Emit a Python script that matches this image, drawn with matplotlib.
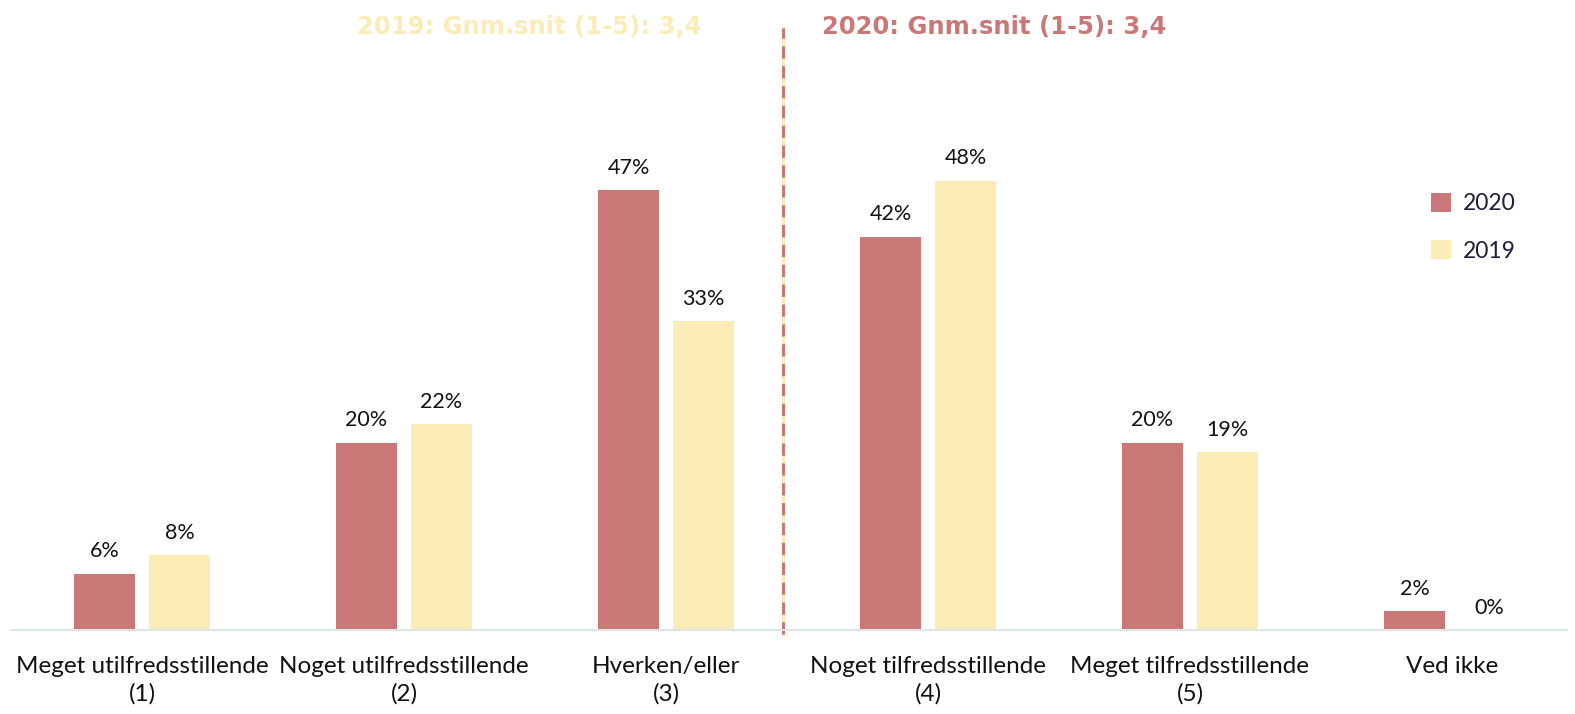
import matplotlib.pyplot as plt
import numpy as np

categories = ["Meget utilfredsstillende\n(1)", "Noget utilfredsstillende\n(2)",
              "Hverken/eller\n(3)", "Noget tilfredsstillende\n(4)",
              "Meget tilfredsstillende\n(5)", "Ved ikke"]
values_2020 = [6, 20, 47, 42, 20, 2]
values_2019 = [8, 22, 33, 48, 19, 0]
title_2019 = "2019: Gnm.snit (1-5): 3,4"
title_2020 = "2020: Gnm.snit (1-5): 3,4"

red = "#C97777"
yellow = "#FBEBB5"

plt.rcParams["font.family"] = ["Lato", "DejaVu Sans"]

fig = plt.figure(figsize=(15.75, 7.14), dpi=100)
ax = fig.add_axes([11 / 1575, 84 / 714, 1572 / 1575, 630 / 714])

x = np.arange(len(categories))
w = 0.23
off = 0.143
b1 = ax.bar(x - off, values_2020, w, color=red, label="2020")
b2 = ax.bar(x + off, values_2019, w, color=yellow, label="2019")

for bars, vals in [(b1, values_2020), (b2, values_2019)]:
    for b, v in zip(bars, vals):
        ax.annotate(f"{v}%", (b.get_x() + b.get_width() / 2, v),
                    xytext=(0, 9), textcoords="offset points",
                    ha="center", va="bottom", fontsize=15.5, color="#111111")

ax.set_xlim(-0.5, 5.5)
ax.set_ylim(0, 67.3)
ax.set_xticks(x)
ax.set_xticklabels(categories, fontsize=17.5, color="#111111")
for t in ax.get_xticklabels():
    t.set_linespacing(1.3)
ax.tick_params(axis="x", length=0, pad=19)
ax.set_yticks([])
for s in ["top", "right", "left"]:
    ax.spines[s].set_visible(False)
ax.spines["bottom"].set_color("#DDE6E6")
ax.spines["bottom"].set_linewidth(1.5)
ax.spines["bottom"].set_bounds(-0.5, 5.44)

# divider line
ax.plot([2.447, 2.447], [-0.4, 64.3], color=yellow, lw=2.2, clip_on=False, zorder=1)
ax.plot([2.447, 2.447], [-0.4, 64.3], color=red, lw=2.2, clip_on=False,
        dashes=(4, 2.5), zorder=2)

tfam = ["DejaVu Sans Condensed", "DejaVu Sans"]
fig.text(529 / 1575, 1 - 27 / 714, title_2019, color=yellow, fontsize=17.5,
         fontweight="bold", ha="center", va="center", family=tfam)
fig.text(994 / 1575, 1 - 27 / 714, title_2020, color=red, fontsize=17.5,
         fontweight="bold", ha="center", va="center", family=tfam)

leg = fig.legend(handles=[b1, b2], loc="upper left",
                 bbox_to_anchor=(1410 / 1575, 1 - 172 / 714), frameon=False,
                 fontsize=16.5, handlelength=0.9, handleheight=0.9,
                 labelspacing=1.15, handletextpad=0.5)
for t in leg.get_texts():
    t.set_color("#1E1E3C")

fig.savefig("out.png", dpi=100)
